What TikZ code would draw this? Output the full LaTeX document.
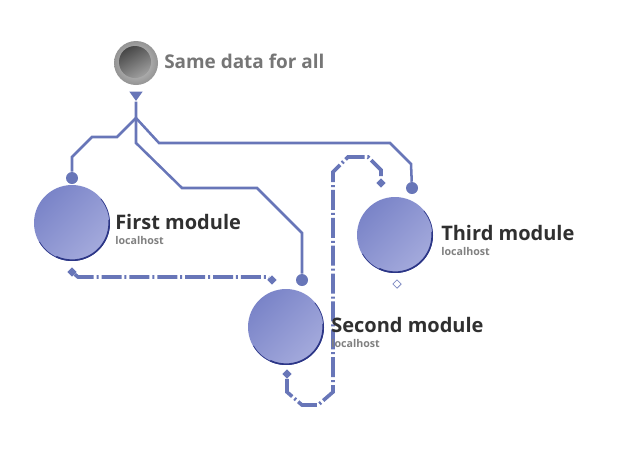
\documentclass[tikz,border=0pt]{standalone}
\usepackage{fontspec}
\setmainfont{Open Sans}
\usetikzlibrary{shapes.geometric, calc}
\definecolor{wire}{RGB}{104,118,184}
\definecolor{modtop}{RGB}{122,132,200}
\definecolor{modbot}{RGB}{164,170,220}
\definecolor{modrim}{RGB}{44,54,134}
\definecolor{txtdark}{RGB}{48,48,48}
\definecolor{txtgray}{RGB}{128,128,128}
\definecolor{srcgray}{RGB}{118,118,118}

\begin{document}
\begin{tikzpicture}[x=0.75pt,y=-0.75pt,
  module/.style={circle,inner sep=0pt,minimum size=57pt,top color=modtop,bottom color=modbot,shading angle=45},
  dot/.style={circle,fill=wire,inner sep=0pt,minimum size=9pt},
  tipdia/.style={diamond,fill=wire,inner sep=0pt,minimum size=7pt},
  hollow/.style={diamond,draw=wire!85,fill=white,line width=0.6pt,inner sep=0pt,minimum size=6.5pt},
  title/.style={anchor=base west,inner sep=0pt,font=\bfseries\fontsize{15}{15}\selectfont,text=txtdark},
  host/.style={anchor=base west,inner sep=0pt,font=\bfseries\fontsize{8}{8}\selectfont,text=txtgray},
  bus/.style={draw=wire,line width=1.9pt},
  link/.style={draw=wire,line width=2.7pt,dash pattern=on 15pt off 2.2pt on 1.5pt off 2.2pt}]
  \useasboundingbox (0,0) rectangle (620,451);
  % source
  \path (136,63) node[circle,inner sep=0pt,minimum size=33pt,inner color=black!18,outer color=black!42] (src) {}
  (135,62) node[circle,inner sep=0pt,minimum size=24pt,top color=black!72,bottom color=black!38,shading angle=30] (srccore) {}
  (136,95) node[isosceles triangle,shape border rotate=-90,isosceles triangle stretches,fill=wire,inner sep=0pt,minimum height=7pt,minimum width=10pt] (feed) {};
  \coordinate (split) at (136,118);
  \coordinate (bend) at (136,143);
  % modules
  \path (72,223) node[module] (first) {} (286,327) node[module] (second) {} (395,235) node[module] (third) {};
  \foreach \m in {first,second,third} {
    \draw[modrim,line width=0.5pt] ($(\m.center)+(40:28.2pt)$) arc[start angle=40,end angle=-150,radius=28.2pt];
    \draw[modrim,line width=1.2pt] ($(\m.center)+(5:27.9pt)$) arc[start angle=5,end angle=-115,radius=27.9pt];
  }
  \path (72,178) node[dot] (fdot) {} (302,280) node[dot] (sdot) {} (412,188) node[dot] (tdot) {}
  (72,272) node[tipdia] (fout) {} (272,280) node[tipdia] (sin) {}
  (287,374) node[tipdia] (sout) {} (381,183) node[tipdia] (tin) {}
  (397,284) node[hollow] (tspare) {};
  % shared data bus
  \draw[bus] (feed) -- (bend) -- (182,188) -- (257,188) -- (302,233) -- (sdot);
  \draw[bus] (split) -- (117,137) -- (92,137) -- (72,157) -- (fdot);
  \draw[bus] (split) -- (159,143) -- (390,143) -- (411,164) -- (tdot);
  % module links
  \draw[link] (fout) -- (78,277) -- (266,277) -- (sin);
  \draw[link] (sout) -- (287,392) -- (302,405) -- (318,405) -- (333,392) -- (333,172)
  -- (348,157) -- (368,157) -- (381,170) -- (tin);
  % labels
  \node[anchor=base west,inner sep=0pt,font=\bfseries\fontsize{14.2}{14}\selectfont,text=srcgray] (srclabel) at (164,68) {Same data for all};
  \node[title] (ftitle) at (115,229) {First module};
  \node[host] (fhost) at (115,244) {localhost};
  \node[title] (stitle) at (331,332) {Second module};
  \node[host] (shost) at (331,347) {localhost};
  \node[title] (ttitle) at (441,240) {Third module};
  \node[host] (thost) at (441,255) {localhost};
\end{tikzpicture}
\end{document}
